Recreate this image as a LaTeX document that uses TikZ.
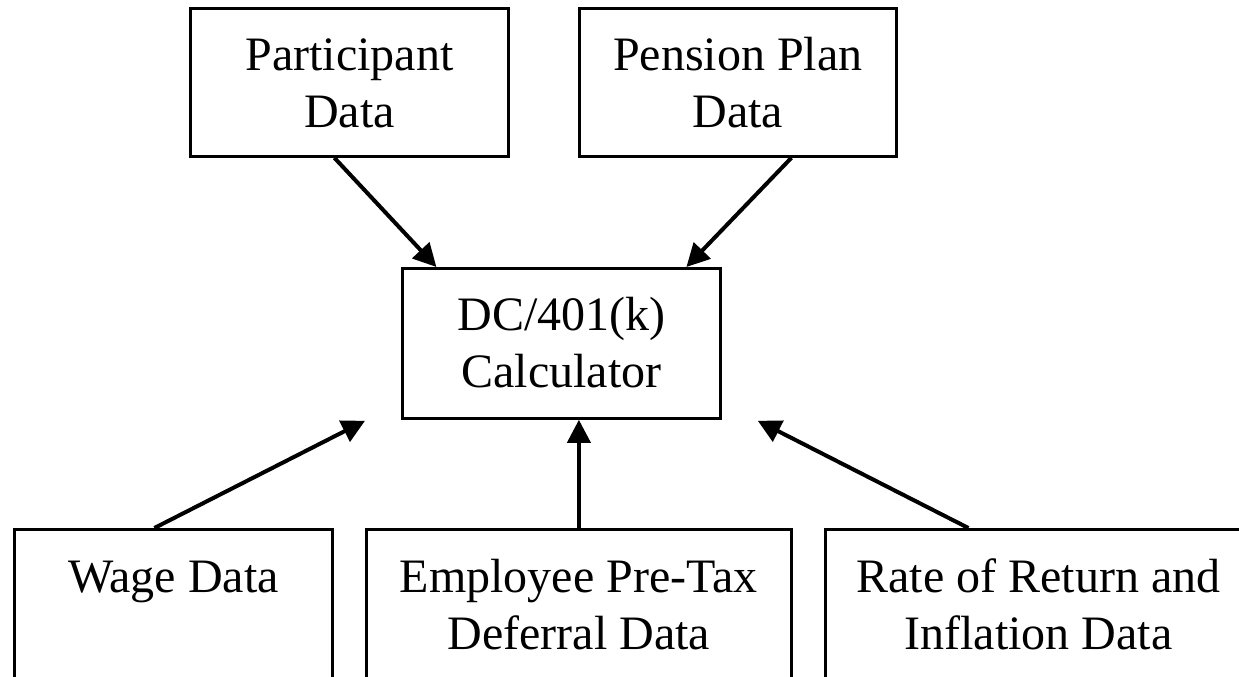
\documentclass[tikz,border=0pt]{standalone}
\usepackage{fontspec}
\setmainfont{Liberation Serif}
\usetikzlibrary{arrows.meta,calc}
\begin{document}
\begin{tikzpicture}[x=0.5pt,y=-0.5pt,
  box/.style={draw, line width=1.4pt, rectangle, inner sep=0pt, anchor=north west},
  lbl/.style={font=\fontsize{24}{28.5}\selectfont, align=center, inner sep=0pt, anchor=north},
  arr/.style={line width=2pt, -{Triangle[length=11.5pt,width=11.5pt]}}]
\useasboundingbox (0,0) rectangle (1239,676);
% boxes
\node[box, minimum width=159pt, minimum height=74pt] (part) at (189,7) {};
\node[box, minimum width=158.5pt, minimum height=74pt] (pens) at (578,7) {};
\node[box, minimum width=159pt, minimum height=75pt] (calc) at (401,267) {};
\node[box, minimum width=159pt, minimum height=120pt] (wage) at (13,528) {};
\node[box, minimum width=212.5pt, minimum height=120pt] (emp) at (365,528) {};
\node[box, minimum width=213pt, minimum height=120pt] (rate) at (824,528) {};
% labels
\node[lbl] (parttxt) at ($(part.north)+(0,23)$) {\strut Participant\\\strut Data};
\node[lbl] (penstxt) at ($(pens.north)+(0,23)$) {\strut Pension Plan\\\strut Data};
\node[lbl] (calctxt) at ($(calc.north)+(0,23)$) {\strut DC/401(k)\\\strut Calculator};
\node[lbl] (wagetxt) at ($(wage.north)+(0,24)$) {\strut Wage Data};
\node[lbl] (emptxt) at ($(emp.north)+(0,24)$) {\strut Employee Pre-Tax\\\strut Deferral Data};
\node[lbl] (ratetxt) at ($(rate.north)+(0,24)$) {\strut Rate of Return and\\\strut Inflation Data};
% connectors
\draw[arr] ([xshift=-7.5pt]part.south) -- ([xshift=-62.5pt]calc.north);
\draw[arr] ([xshift=26.75pt]pens.south) -- ([xshift=62.5pt]calc.north);
\draw[arr] ([xshift=-9.5pt]wage.north) -- ([shift={(-18pt,-0.5pt)}]calc.south west);
\draw[arr] (emp.north) -- (emp.north |- calc.south);
\draw[arr] ([xshift=-35pt]rate.north) -- ([shift={(18pt,-0.5pt)}]calc.south east);
\end{tikzpicture}
\end{document}
